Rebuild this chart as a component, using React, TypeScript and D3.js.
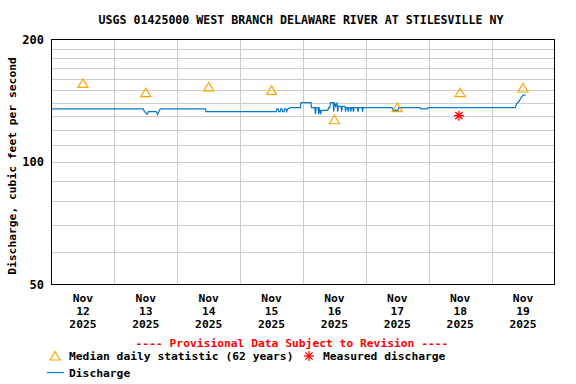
import * as d3 from "d3";

// chart size and plot box
const width = 576,
	height = 384;
const plot = { left: 51.5, right: 554.5, top: 39.5, bottom: 284.5 };

const title = "USGS 01425000 WEST BRANCH DELAWARE RIVER AT STILESVILLE NY";
const yLabel = "Discharge, cubic feet per second";

// days on the x axis (ticks at noon, grid at midnight)
const days = ["12", "13", "14", "15", "16", "17", "18", "19"];
const yTicks = [50, 100, 200];
const yGrid = [60, 70, 80, 90, 110, 120, 130, 140, 150, 160, 170, 180, 190];

// median daily statistic (62 years), one per day at noon
const medians = [156, 148, 153, 150, 127, 136, 148, 152];

// measured discharge: hours since Nov 12 00:00, cfs
const measuredHours = [155.5];
const measuredValues = [130];

// 15-minute discharge, hours since Nov 12 00:00
const flowHours = [
	0, 35, 35.5, 36.5, 37, 40, 40.5, 41, 41.5, 58.75, 59, 85.75, 86, 86.5, 86.75, 87.25, 87.5, 88, 88.25, 88.75, 89, 89.5,
	89.75, 90.25, 91, 95, 95.25, 99, 99.25, 100.5, 100.75, 101, 101.75, 102, 102.25, 102.75, 103, 105.5, 105.75, 106.25,
	106.5, 107.5, 107.75, 108, 108.5, 109, 109.25, 109.5, 110.5, 110.75, 111, 112, 112.25, 112.5, 113, 113.25, 113.5, 114,
	114.25, 114.5, 115, 115.25, 115.5, 116.75, 117, 117.25, 118.5, 118.75, 119, 130, 130.5, 132.25, 132.5, 140.75, 141,
	143.5, 143.75, 177, 177.5, 178.5, 179.25, 180, 181,
];
const flowValues = [
	135, 135, 133, 131, 133, 133, 131, 133, 135, 135, 133, 133, 135, 135, 133, 133, 135, 135, 133, 133, 135, 135, 133, 135,
	136, 136, 140, 140, 136, 136, 131, 136, 136, 131, 136, 131, 134, 134, 136, 136, 140, 140, 133, 140, 137, 140, 133, 137,
	137, 133, 137, 137, 133, 136, 136, 133, 136, 136, 133, 136, 136, 133, 136, 136, 133, 136, 136, 133, 136, 136, 134, 134,
	136, 136, 135, 135, 136, 136, 139, 141, 144, 146, 146,
];

const font = "'DejaVu Sans Mono', monospace";
const orange = "#ffa500";
const blue = "#0a78c8";
const red = "#ff0000";

const Triangle = ({ x, y }) => <path d={`M${x},${y - 4.5}L${x + 5},${y + 4}L${x - 5},${y + 4}Z`} fill="none" stroke={orange} strokeWidth={1.2} />;

const Star = ({ x, y }) => (
	<g stroke={red} strokeWidth={1.3}>
		<line x1={x - 5} y1={y} x2={x + 5} y2={y} />
		<line x1={x} y1={y - 5} x2={x} y2={y + 5} />
		<line x1={x - 3.6} y1={y - 3.6} x2={x + 3.6} y2={y + 3.6} />
		<line x1={x - 3.6} y1={y + 3.6} x2={x + 3.6} y2={y - 3.6} />
	</g>
);

export default function App() {
	const x = d3.scaleLinear().domain([0, 24 * days.length]).range([plot.left, plot.right]);
	const y = d3.scaleLog().domain([50, 200]).range([plot.bottom, plot.top]);

	const line = d3
		.line()
		.x((d) => x(d[0]))
		.y((d) => y(d[1]));
	const flow = flowHours.map((h, i) => [h, flowValues[i]]);

	const midnights = d3.range(1, days.length).map((i) => i * 24);

	return (
		<svg width={width} height={height} style={{ position: "absolute", left: 0, top: 0, background: "#fff" }} fontFamily={font} fontWeight="bold" fontSize={11.3}>
			<text x={width / 2 + 13} y={24} textAnchor="middle" fontSize={11.6}>
				{title}
			</text>

			{/* grid */}
			<g stroke="#cccccc" strokeWidth={1}>
				{yGrid.map((v) => (
					<line key={v} x1={plot.left} x2={plot.right} y1={Math.round(y(v)) + 0.5} y2={Math.round(y(v)) + 0.5} />
				))}
				<line x1={plot.left} x2={plot.right} y1={Math.round(y(100)) + 0.5} y2={Math.round(y(100)) + 0.5} />
				{midnights.map((h) => (
					<line key={h} x1={Math.round(x(h)) + 0.5} x2={Math.round(x(h)) + 0.5} y1={plot.top} y2={plot.bottom} />
				))}
			</g>

			{/* data */}
			<path d={line(flow)} fill="none" stroke={blue} strokeWidth={1.2} />
			{medians.map((v, i) => (
				<Triangle key={i} x={x(i * 24 + 12)} y={y(v)} />
			))}
			{measuredHours.map((h, i) => (
				<Star key={i} x={x(h)} y={y(measuredValues[i])} />
			))}

			<rect x={plot.left} y={plot.top} width={plot.right - plot.left} height={plot.bottom - plot.top} fill="none" stroke="#000" strokeWidth={1} />

			{/* y axis */}
			{yTicks.map((v) => (
				<text key={v} x={44} y={y(v) + 4} textAnchor="end" fontSize={12}>
					{v}
				</text>
			))}
			<text transform={`translate(16,166) rotate(-90)`} textAnchor="middle">
				{yLabel}
			</text>

			{/* x axis */}
			{days.map((d, i) => (
				<text key={d} x={x(i * 24 + 12)} textAnchor="middle">
					<tspan x={x(i * 24 + 12)} y={302}>
						Nov
					</tspan>
					<tspan x={x(i * 24 + 12)} y={315}>
						{d}
					</tspan>
					<tspan x={x(i * 24 + 12)} y={328}>
						2025
					</tspan>
				</text>
			))}

			<text x={292} y={347} textAnchor="middle" fill={red}>
				---- Provisional Data Subject to Revision ----
			</text>

			{/* legend */}
			<Triangle x={55} y={356} />
			<text x={69} y={360}>
				Median daily statistic (62 years)
			</text>
			<Star x={309} y={356} />
			<text x={323} y={360}>
				Measured discharge
			</text>
			<line x1={47} x2={64} y1={372.5} y2={372.5} stroke={blue} strokeWidth={1.2} />
			<text x={69} y={377}>
				Discharge
			</text>
		</svg>
	);
}
